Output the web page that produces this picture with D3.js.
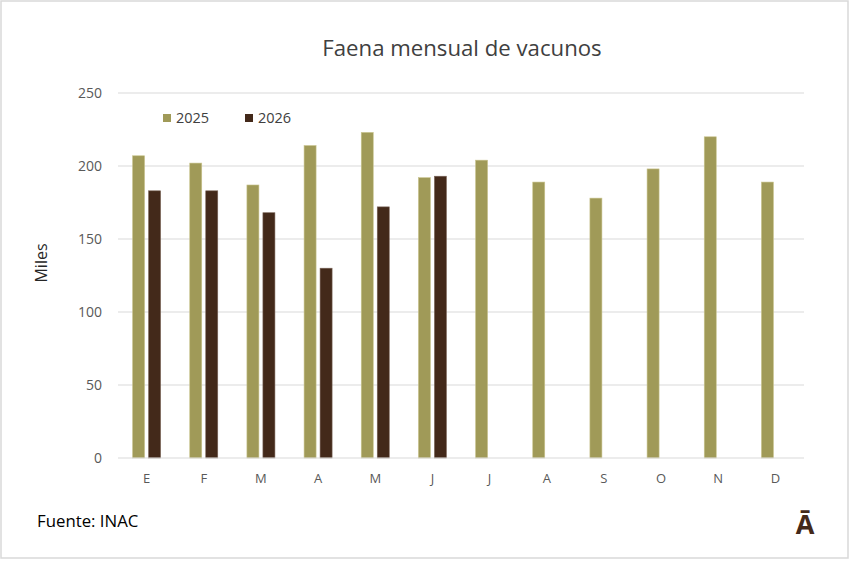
<!DOCTYPE html>
<html>
<head>
<meta charset="utf-8">
<script src="https://cdn.jsdelivr.net/npm/d3@7"></script>
<style>
  body { margin: 0; background: #fff; }
  svg { display: block; font-family: "Open Sans", sans-serif; }
</style>
</head>
<body>
<div class="ChartWrapper"></div>
<script>
// data (thousands of head)
const months = ['E', 'F', 'M', 'A', 'M', 'J', 'J', 'A', 'S', 'O', 'N', 'D'];
const series = ['2025', '2026'];
const values2025 = [207, 202, 187, 214, 223, 192, 204, 189, 178, 198, 220, 189];
const values2026 = [183, 183, 168, 130, 172, 193];
const yTicks = [0, 50, 100, 150, 200, 250];

const COLORS = { '2025': '#A09A58', '2026': '#43291A' };
const W = 850, H = 561;
const M = { top: 93, right: 46, bottom: 103, left: 118 };

const svg = d3.select('.ChartWrapper')
  .append('svg')
  .attr('width', W)
  .attr('height', H);

// outer frame
svg.append('rect')
  .attr('x', 1).attr('y', 1)
  .attr('width', W - 3).attr('height', H - 4)
  .attr('fill', '#fff')
  .attr('stroke', '#d9d9d9')
  .attr('stroke-width', 1.5);

const x0 = d3.scaleBand()
  .domain(d3.range(months.length))
  .range([M.left, W - M.right])
  .paddingInner(0.51)
  .paddingOuter(0.255);

const x1 = d3.scaleBand()
  .domain(series)
  .range([0, x0.bandwidth()])
  .paddingInner(0.25);

const y = d3.scaleLinear()
  .domain([0, 250])
  .range([H - M.bottom, M.top]);

// gridlines
svg.append('g')
  .selectAll('line')
  .data(yTicks.filter(d => d > 0))
  .join('line')
  .attr('x1', M.left).attr('x2', W - M.right)
  .attr('y1', d => y(d)).attr('y2', d => y(d))
  .attr('stroke', '#d9d9d9')
  .attr('stroke-width', 1);

// y tick labels
svg.append('g')
  .selectAll('text')
  .data(yTicks)
  .join('text')
  .attr('x', M.left - 16)
  .attr('y', d => y(d))
  .attr('dy', '0.35em')
  .attr('text-anchor', 'end')
  .attr('font-size', 14)
  .attr('fill', '#595959')
  .text(d => d);

// bars
const rows = months.map((m, i) => ({
  i,
  vals: [
    { key: '2025', v: values2025[i] },
    { key: '2026', v: values2026[i] },
  ].filter(d => d.v != null),
}));

const groups = svg.append('g')
  .selectAll('g')
  .data(rows)
  .join('g')
  .attr('transform', d => `translate(${x0(d.i)},0)`);

groups.selectAll('rect')
  .data(d => d.vals)
  .join('rect')
  .attr('x', d => x1(d.key))
  .attr('y', d => y(d.v))
  .attr('width', x1.bandwidth())
  .attr('height', d => y(0) - y(d.v))
  .attr('fill', d => COLORS[d.key])
  .attr('stroke', d => d.key === '2025' ? '#c9c48e' : '#7a6458')
  .attr('stroke-width', 0.6);

// x axis line
svg.append('line')
  .attr('x1', M.left).attr('x2', W - M.right)
  .attr('y1', y(0)).attr('y2', y(0))
  .attr('stroke', '#d9d9d9')
  .attr('stroke-width', 1.2);

// month labels
svg.append('g')
  .selectAll('text')
  .data(months)
  .join('text')
  .attr('x', (d, i) => x0(i) + x0.bandwidth() / 2)
  .attr('y', y(0) + 20)
  .attr('dy', '0.35em')
  .attr('text-anchor', 'middle')
  .attr('font-size', 13)
  .attr('fill', '#595959')
  .text(d => d);

// title
svg.append('text')
  .attr('x', 462)
  .attr('y', 56)
  .attr('text-anchor', 'middle')
  .attr('font-size', 22.2)
  .attr('fill', '#404040')
  .text('Faena mensual de vacunos');

// y label
svg.append('text')
  .attr('transform', 'translate(47, 263) rotate(-90)')
  .attr('text-anchor', 'middle')
  .attr('font-size', 16)
  .attr('fill', '#262626')
  .text('Miles');

// legend
const legend = svg.append('g')
  .selectAll('g')
  .data(series)
  .join('g')
  .attr('transform', (d, i) => `translate(${163 + i * 82}, 118)`);

legend.append('rect')
  .attr('x', 0).attr('y', -4)
  .attr('width', 8).attr('height', 8)
  .attr('fill', d => COLORS[d]);

legend.append('text')
  .attr('x', 13)
  .attr('y', 0)
  .attr('dy', '0.36em')
  .attr('font-size', 14.5)
  .attr('fill', '#404040')
  .text(d => d);

// source
svg.append('text')
  .attr('x', 37)
  .attr('y', 527)
  .attr('font-size', 16.8)
  .attr('fill', '#000')
  .text('Fuente: INAC');

// logo
svg.append('text')
  .attr('x', 805)
  .attr('y', 534)
  .attr('text-anchor', 'middle')
  .attr('font-size', 27)
  .attr('font-weight', 'bold')
  .attr('fill', '#43291A')
  .text('Ā');
</script>
</body>
</html>
